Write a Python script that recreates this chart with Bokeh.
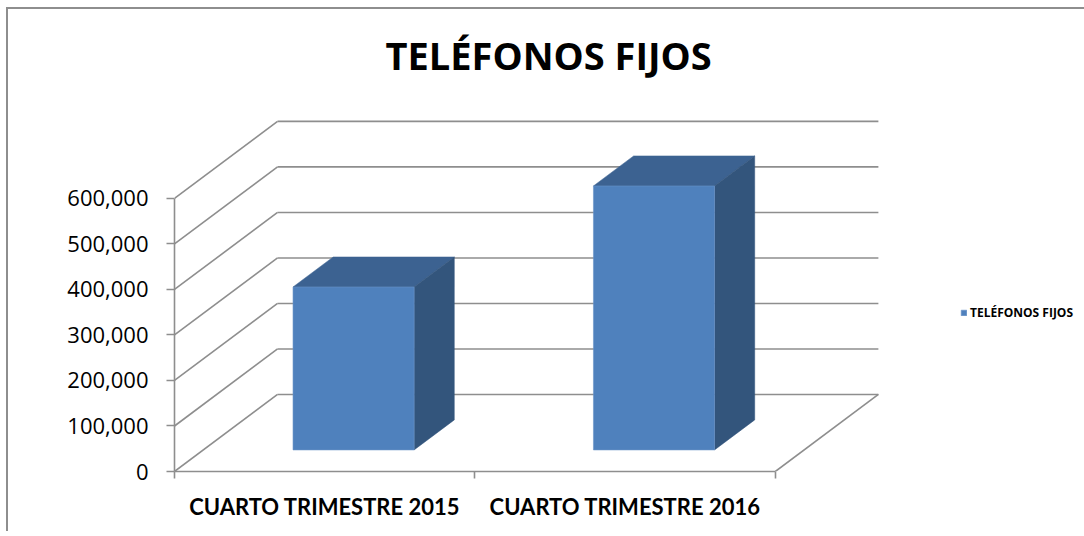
from bokeh.plotting import figure
from bokeh.models import Range1d, FixedTicker, NumeralTickFormatter, Legend, LegendItem
from bokeh.embed import file_html
from bokeh.resources import INLINE

# ---- data ----
categories = ["CUARTO TRIMESTRE 2015", "CUARTO TRIMESTRE 2016"]
values = [358000, 580000]
y_ticks = [0, 100000, 200000, 300000, 400000, 500000, 600000]
series_name = "TELÉFONOS FIJOS"
title_text = "TELÉFONOS FIJOS"

# ---- oblique projection parameters ----
DEPTH_X = 0.343      # depth offset, in category units
DEPTH_Y = 169230     # depth offset, in value units
BAR_W = 0.403
F0, F1 = 0.28, 0.67  # bar depth span (fraction of full depth)

GRID = "#8e8e8e"
FRONT = "#4f81bd"
TOP = "#3c6291"
SIDE = "#33557c"

n = len(categories)

p = figure(
    frame_width=709, frame_height=371,
    min_border_left=166, min_border_right=199, min_border_top=91, min_border_bottom=60,
    x_range=Range1d(0, n + DEPTH_X + 0.017),
    y_range=Range1d(0, 815150),
    output_backend="svg", toolbar_location=None,
    background_fill_color="white", border_fill_color="white",
    styles={"border-left": "2px solid #8e8e8e", "border-top": "2px solid #8e8e8e",
            "margin-left": "6px", "margin-top": "7px"},
)
p.outline_line_color = None
p.xgrid.visible = False
p.ygrid.visible = False

# back wall gridlines
p.multi_line(xs=[[DEPTH_X, n + DEPTH_X] for v in y_ticks],
             ys=[[v + DEPTH_Y, v + DEPTH_Y] for v in y_ticks],
             line_color=GRID, line_width=1.6)
# side wall diagonals
p.multi_line(xs=[[0, DEPTH_X] for v in y_ticks],
             ys=[[v, v + DEPTH_Y] for v in y_ticks],
             line_color=GRID, line_width=1.6)
# floor right edge
p.multi_line(xs=[[n, n + DEPTH_X]], ys=[[0, DEPTH_Y]], line_color=GRID, line_width=1.6)

# bars
centers = [i + 0.5 for i in range(n)]
fl = [c - BAR_W / 2 + F0 * DEPTH_X for c in centers]
fr = [c + BAR_W / 2 + F0 * DEPTH_X for c in centers]
fb = [F0 * DEPTH_Y for c in centers]
ft = [v + F0 * DEPTH_Y for v in values]
dxb = (F1 - F0) * DEPTH_X
dyb = (F1 - F0) * DEPTH_Y

top_xs = [[l, r, r + dxb, l + dxb] for l, r in zip(fl, fr)]
top_ys = [[t, t, t + dyb, t + dyb] for t in ft]
side_xs = [[r, r + dxb, r + dxb, r] for r in fr]
side_ys = [[b, b + dyb, t + dyb, t] for b, t in zip(fb, ft)]

p.patches(xs=top_xs, ys=top_ys, fill_color=TOP, line_color=TOP, line_width=0.5)
p.patches(xs=side_xs, ys=side_ys, fill_color=SIDE, line_color=SIDE, line_width=0.5)
front = p.quad(left=fl, right=fr, bottom=fb, top=ft, fill_color=FRONT, line_color="#6a94c8", line_width=0.6)

# axes
p.yaxis.ticker = FixedTicker(ticks=y_ticks)
p.yaxis.formatter = NumeralTickFormatter(format="0,0")
p.yaxis.bounds = (0, y_ticks[-1])
p.yaxis.axis_line_color = GRID
p.yaxis.axis_line_width = 1.6
p.yaxis.major_tick_line_color = GRID
p.yaxis.major_tick_line_width = 1.6
p.yaxis.major_tick_out = 8
p.yaxis.major_tick_in = 0
p.yaxis.minor_tick_line_color = None
p.yaxis.major_label_standoff = 18
p.yaxis.major_label_text_font = "Open Sans"
p.yaxis.major_label_text_font_size = "22px"
p.yaxis.major_label_text_color = "#000000"

p.xaxis.ticker = FixedTicker(ticks=centers, minor_ticks=list(range(n + 1)))
p.xaxis.major_label_overrides = {c: lab for c, lab in zip(centers, categories)}
p.xaxis.bounds = (0, n)
p.xaxis.axis_line_color = GRID
p.xaxis.axis_line_width = 1.6
p.xaxis.major_tick_line_color = None
p.xaxis.major_tick_out = 0
p.xaxis.major_tick_in = 0
p.xaxis.minor_tick_line_color = GRID
p.xaxis.minor_tick_line_width = 1.6
p.xaxis.minor_tick_out = 7
p.xaxis.minor_tick_in = 0
p.xaxis.major_label_standoff = 14
p.xaxis.major_label_text_font = "Lato"
p.xaxis.major_label_text_font_style = "bold"
p.xaxis.major_label_text_font_size = "22px"
p.xaxis.major_label_text_color = "#000000"

# title
p.title.text = title_text
p.title.align = "left"
p.title.vertical_align = "top"
p.title.offset = 211
p.title.standoff = 36
p.title.text_font = "Open Sans"
p.title.text_font_style = "bold"
p.title.text_font_size = "38px"
p.title.text_color = "#000000"

# legend
legend = Legend(items=[LegendItem(label=series_name, renderers=[front])],
                location=(77, 150), padding=0, margin=0, spacing=0,
                border_line_color=None, background_fill_alpha=0,
                glyph_width=7, glyph_height=7, label_standoff=3,
                label_text_font="Open Sans", label_text_font_style="bold",
                label_text_font_size="12px", label_text_color="#000000")
p.add_layout(legend, "right")

open("out.html", "w").write(file_html(p, INLINE))
